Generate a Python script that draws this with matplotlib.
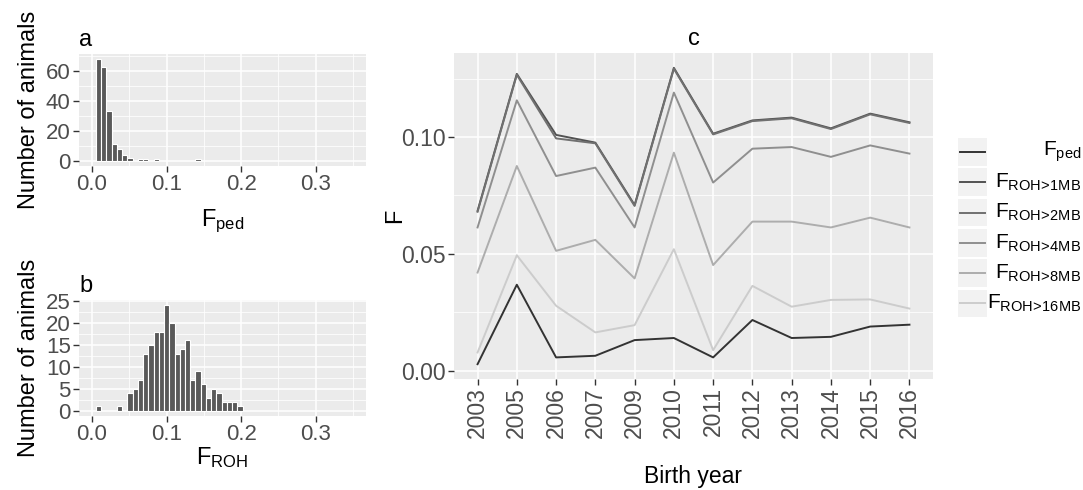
import matplotlib
matplotlib.use('Agg')
import matplotlib.pyplot as plt
from matplotlib.patches import Rectangle
import numpy as np

plt.rcParams['font.family'] = ['Liberation Sans', 'DejaVu Sans']
plt.rcParams['mathtext.fontset'] = 'custom'
plt.rcParams['mathtext.rm'] = 'Liberation Sans'
plt.rcParams['mathtext.it'] = 'Liberation Sans:italic'

# histogram data: bin index -> count (bins are ~0.007 wide)
bin_width = 0.00704
bin_offset = 0.0015
fped_bin_idx = [1, 2, 3, 4, 5, 6, 7, 9, 10, 12, 20]
fped_counts = [68, 63, 33, 11, 8, 4, 2, 1, 1, 1, 1]
froh_bin_idx = [1, 5, 7, 8, 9, 10, 11, 12, 13, 14, 15, 16, 17, 18, 19, 20,
                21, 22, 23, 24, 25, 26, 27, 28]
froh_counts = [1, 1, 4, 5, 7, 13, 15, 18, 18, 24, 20, 13, 14, 16, 7, 9,
               6, 3, 5, 4, 2, 2, 2, 1]

# mean inbreeding by birth year
years = ['2003', '2005', '2006', '2007', '2009', '2010', '2011', '2012',
         '2013', '2014', '2015', '2016']
f_ped = [0.0028, 0.0368, 0.0057, 0.0064, 0.0131, 0.0140, 0.0057, 0.0217,
         0.0140, 0.0145, 0.0189, 0.0197]
f_roh1 = [0.0684, 0.1270, 0.1009, 0.0976, 0.0709, 0.1296, 0.1014, 0.1071,
          0.1083, 0.1037, 0.1100, 0.1063]
f_roh2 = [0.0680, 0.1266, 0.0994, 0.0973, 0.0705, 0.1292, 0.1011, 0.1068,
          0.1080, 0.1034, 0.1097, 0.1060]
f_roh4 = [0.0613, 0.1157, 0.0833, 0.0869, 0.0613, 0.1190, 0.0805, 0.0950,
          0.0957, 0.0915, 0.0964, 0.0929]
f_roh8 = [0.0420, 0.0876, 0.0513, 0.0560, 0.0395, 0.0933, 0.0452, 0.0638,
          0.0638, 0.0613, 0.0655, 0.0613]
f_roh16 = [0.0078, 0.0494, 0.0278, 0.0164, 0.0195, 0.0520, 0.0088, 0.0363,
           0.0274, 0.0303, 0.0305, 0.0266]

series = [f_ped, f_roh1, f_roh2, f_roh4, f_roh8, f_roh16]
labels = [r'$\mathregular{F_{ped}}$',
          r'$\mathregular{F_{ROH\!>\!1MB}}$',
          r'$\mathregular{F_{ROH\!>\!2MB}}$',
          r'$\mathregular{F_{ROH\!>\!4MB}}$',
          r'$\mathregular{F_{ROH\!>\!8MB}}$',
          r'$\mathregular{F_{ROH\!>\!16MB}}$']
colors = ['#333333', '#525252', '#707070', '#8f8f8f', '#adadad', '#cccccc']

W, H = 1083, 490
fig = plt.figure(figsize=(W / 100, H / 100), dpi=100)


def gg_style(ax):
    ax.set_facecolor('#ebebeb')
    for s in ax.spines.values():
        s.set_visible(False)
    ax.grid(True, which='major', color='white', linewidth=1.1)
    ax.grid(True, which='minor', color='white', linewidth=0.55)
    ax.set_axisbelow(True)
    ax.tick_params(which='major', direction='out', length=4, width=1,
                   color='#333333', labelcolor='#4d4d4d', labelsize=16, pad=2)
    ax.tick_params(which='minor', length=0)


def hist_panel(rect, idx, counts, ymax, yticks, yminor, xlabel, xpad, title):
    ax = fig.add_axes(rect)
    gg_style(ax)
    centers = bin_offset + np.array(idx) * bin_width
    ax.bar(centers, counts, width=bin_width, color='#595959',
           edgecolor='white', linewidth=0.8, zorder=2)
    ax.set_xlim(-0.0175, 0.3675)
    ax.set_ylim(-ymax * 0.05, ymax * 1.05)
    ax.set_xticks([0.0, 0.1, 0.2, 0.3])
    ax.set_xticklabels(['0.0', '0.1', '0.2', '0.3'])
    ax.set_xticks([0.05, 0.15, 0.25, 0.35], minor=True)
    ax.set_yticks(yticks)
    ax.set_yticks(yminor, minor=True)
    ax.set_ylabel('Number of animals', fontsize=17, labelpad=4)
    ax.set_xlabel(xlabel, fontsize=17, labelpad=xpad)
    ax.set_title(title, loc='left', fontsize=17, pad=6)
    return ax


hist_panel([79 / W, 1 - 166 / H, 287 / W, 112 / H], fped_bin_idx, fped_counts,
           68, [0, 20, 40, 60], [10, 30, 50, 70],
           r'$\mathregular{F_{ped}}$', 9, 'a')
hist_panel([79 / W, 1 - 416 / H, 287 / W, 116 / H], froh_bin_idx, froh_counts,
           24, [0, 5, 10, 15, 20, 25], [2.5, 7.5, 12.5, 17.5, 22.5],
           r'$\mathregular{F_{ROH}}$', 0, 'b')

# panel c
axc = fig.add_axes([454 / W, 1 - 379 / H, 479 / W, 326 / H])
gg_style(axc)
x = np.arange(len(years))
for vals, col in zip(series, colors):
    axc.plot(x, vals, color=col, linewidth=1.4, zorder=3)
allv = np.concatenate([np.array(s) for s in series])
rng = allv.max() - allv.min()
axc.set_ylim(allv.min() - 0.05 * rng, allv.max() + 0.05 * rng)
axc.set_xlim(-0.6, len(years) - 0.4)
axc.set_xticks(x)
axc.set_xticklabels(years, rotation=90)
axc.set_yticks([0.0, 0.05, 0.10])
axc.set_yticklabels(['0.00', '0.05', '0.10'])
axc.set_yticks([0.025, 0.075, 0.125], minor=True)
axc.tick_params(axis='y', labelsize=16.5)
axc.tick_params(axis='x', labelsize=16.5)
axc.set_xlabel('Birth year', fontsize=16.5, labelpad=19)
axc.set_ylabel('F', fontsize=17, labelpad=-4)
axc.set_title('c', fontsize=17, pad=6)

# legend, drawn by hand so the labels are right-aligned like ggplot's
lax = fig.add_axes([950 / W, 1 - 330 / H, (W - 950) / W, 200 / H])
lax.set_xlim(950, W)
lax.set_ylim(330, 130)
lax.axis('off')
for i, (lab, col) in enumerate(zip(labels, colors)):
    yc = 152 + 30.3 * i
    lax.add_patch(Rectangle((957.5, yc - 13.8), 29, 27.6, facecolor='#f2f2f2',
                            edgecolor='none'))
    lax.plot([960, 984.5], [yc, yc], color=col, linewidth=1.4)
    lax.text(1081, yc, lab, ha='right', va='center', fontsize=15)

fig.savefig('out.png', dpi=100)
